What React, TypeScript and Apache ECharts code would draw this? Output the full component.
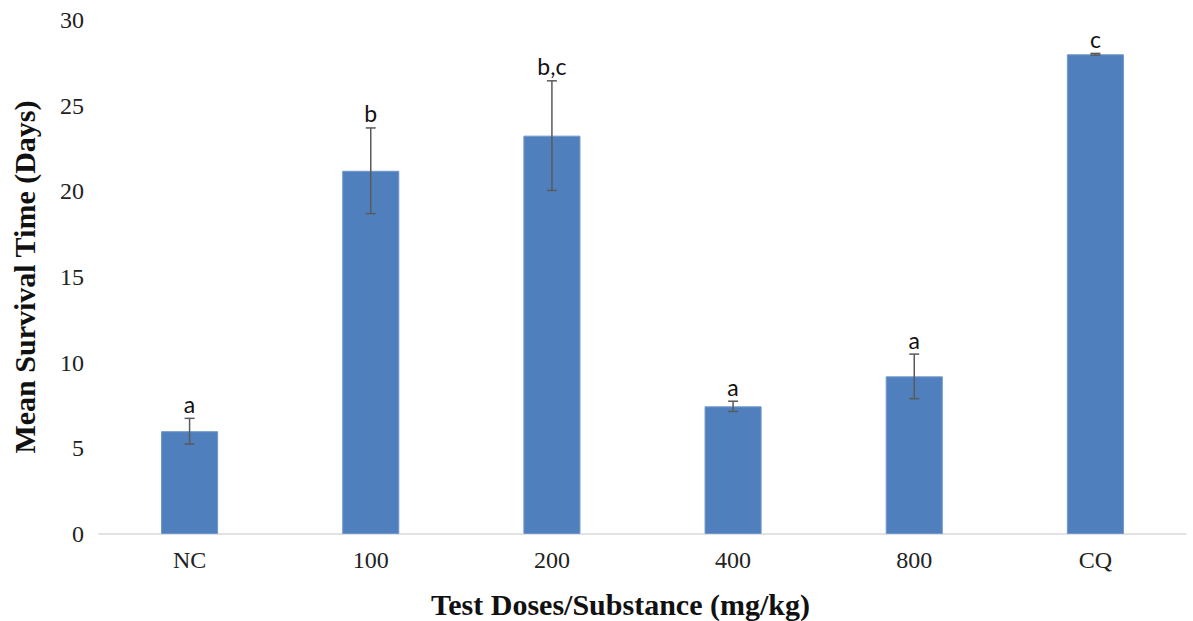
import React, { useEffect, useRef } from "react";
import * as echarts from "echarts";

const categories = ["NC", "100", "200", "400", "800", "CQ"];
const means = [6.0, 21.2, 23.25, 7.45, 9.2, 28.0];
const errors = [0.75, 2.5, 3.2, 0.3, 1.3, 0.05];
const letters = ["a", "b", "b,c", "a", "a", "c"];
const yTicks = { min: 0, max: 30, interval: 5 };

export default function App() {
  const ref = useRef<HTMLDivElement>(null);
  useEffect(() => {
    if (!ref.current) return;
    const chart = echarts.init(ref.current, null, { renderer: "svg" });
    const errData = categories.map((_, i) => [i, means[i] - errors[i], means[i] + errors[i]]);
    chart.setOption({
      animation: false,
      backgroundColor: "#ffffff",
      grid: { left: 99, right: 7, top: 20, bottom: 87, containLabel: false, outerBoundsMode: "none" },
      xAxis: {
        type: "category",
        data: categories,
        name: "Test Doses/Substance (mg/kg)",
        nameLocation: "middle",
        nameGap: 55,
        nameTextStyle: {
          fontFamily: "Liberation Serif",
          fontWeight: "bold",
          fontSize: 30,
          color: "#111",
          padding: [0, 44, 0, 0],
        },
        axisLine: { show: true, lineStyle: { color: "#d9d9d9", width: 1.5 } },
        axisTick: { show: false },
        axisLabel: { fontFamily: "Liberation Serif", fontSize: 24, color: "#222", margin: 14 },
      },
      yAxis: {
        type: "value",
        min: yTicks.min,
        max: yTicks.max,
        interval: yTicks.interval,
        name: "Mean Survival Time (Days)",
        nameLocation: "middle",
        nameGap: 60,
        nameRotate: 90,
        nameTextStyle: { fontFamily: "Liberation Serif", fontWeight: "bold", fontSize: 30, color: "#111" },
        axisLine: { show: false },
        axisTick: { show: false },
        splitLine: { show: false },
        axisLabel: { fontFamily: "Liberation Serif", fontSize: 24, color: "#222", margin: 15 },
      },
      series: [
        {
          type: "bar",
          data: means,
          barWidth: "31.5%",
          itemStyle: { color: "#4f80bd", borderColor: "#6f97cb", borderWidth: 1 },
        },
        {
          type: "custom",
          data: errData,
          z: 10,
          renderItem: (params: any, api: any) => {
            const i = api.value(0);
            const lo = api.coord([i, api.value(1)]);
            const hi = api.coord([i, api.value(2)]);
            const x = lo[0];
            const cap = 5;
            const style = { stroke: "#5a5a5a", lineWidth: 1.5 };
            return {
              type: "group",
              children: [
                { type: "line", shape: { x1: x, y1: lo[1], x2: x, y2: hi[1] }, style },
                { type: "line", shape: { x1: x - cap, y1: lo[1], x2: x + cap, y2: lo[1] }, style },
                { type: "line", shape: { x1: x - cap, y1: hi[1], x2: x + cap, y2: hi[1] }, style },
                {
                  type: "text",
                  x: x,
                  y: hi[1] - 3,
                  style: {
                    text: letters[params.dataIndex],
                    fontFamily: "Lato",
                    fontSize: 23,
                    fill: "#111",
                    align: "center",
                    verticalAlign: "bottom",
                  },
                },
              ],
            };
          },
        },
      ],
    });
    return () => chart.dispose();
  }, []);
  return (
    <div
      ref={ref}
      style={{ position: "fixed", left: 0, top: 0, width: 1193, height: 621, background: "#fff" }}
    />
  );
}
